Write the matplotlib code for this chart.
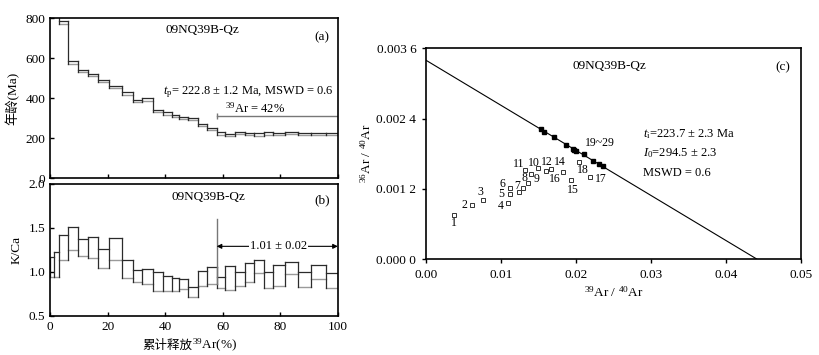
import matplotlib.pyplot as plt
import numpy as np

plt.rcParams['font.family'] = ['Liberation Serif', 'Noto Sans CJK SC']
plt.rcParams['mathtext.fontset'] = 'custom'
plt.rcParams['mathtext.rm'] = 'Liberation Serif'
plt.rcParams['mathtext.it'] = 'Liberation Serif:italic'
plt.rcParams['font.size'] = 9.5

# step boundaries, cumulative 39Ar released (%)
cum_ar = [0, 1.4, 3.1, 6.1, 9.6, 13.3, 16.8, 20.5, 25.0, 29.0, 32.1, 35.7, 39.2, 42.3,
          44.8, 47.9, 51.3, 54.5, 57.9, 60.9, 64.4, 67.6, 70.9, 74.4, 77.6, 81.7,
          86.3, 90.6, 95.9, 100]
# apparent ages (Ma), 1 sigma
ages = [1000, 900, 780, 579, 536, 518, 488, 456, 424, 387, 394, 338, 324, 310, 300,
        296, 266, 247, 225, 216, 226, 221, 219, 224, 223, 226, 221, 222, 220]
age_err = [10, 10, 7, 6, 5, 5, 5, 6, 6, 6, 6, 6, 6, 5, 5, 5, 6, 5, 6, 6, 5, 5, 6, 6,
           5, 6, 5, 5, 5]
# K/Ca
kca = [1.05, 1.08, 1.275, 1.375, 1.275, 1.28, 1.15, 1.26, 1.035, 0.95, 0.945, 0.89,
       0.866, 0.85, 0.86, 0.773, 0.925, 0.96, 0.88, 0.93, 0.92, 0.99, 1.06, 0.91,
       0.96, 1.04, 0.915, 1.00, 0.905]
kca_err = [0.114, 0.14, 0.14, 0.13, 0.10, 0.12, 0.11, 0.13, 0.10, 0.07, 0.085, 0.11,
           0.09, 0.074, 0.06, 0.057, 0.085, 0.10, 0.06, 0.14, 0.08, 0.11, 0.07, 0.09,
           0.12, 0.07, 0.085, 0.08, 0.085]
plateau_start = 57.9
plateau_age_label = 311

# isochron 36Ar/40Ar vs 39Ar/40Ar
open_x = [0.0037, 0.0061, 0.0076, 0.0110, 0.0112, 0.0112, 0.0124, 0.0136, 0.0140,
          0.0149, 0.0132, 0.0160, 0.0130, 0.0167, 0.0193, 0.0183, 0.0219, 0.0204]
open_y = [0.00076, 0.00092, 0.00100, 0.00096, 0.00111, 0.00122, 0.00115, 0.00130,
          0.00145, 0.00156, 0.00152, 0.00151, 0.00122, 0.00154, 0.00135, 0.00148,
          0.00140, 0.00165]
open_labels = ['1', '2', '3', '4', '5', '6', '7', '8', '9', '10', '11', '12', '',
               '14', '15', '16', '17', '18']
fill_x = [0.01533, 0.01573, 0.01707, 0.01867, 0.01956, 0.01980, 0.01996, 0.02102,
          0.02222, 0.02307, 0.02360]
fill_y = [0.00222, 0.00217, 0.00209, 0.00195, 0.00188, 0.00186, 0.00185, 0.00180,
          0.00167, 0.00163, 0.00159]
iso_y0 = 1 / 294.5
iso_x0 = 0.0441

# label offsets (pixels) for the open points
label_off = [(0, -8), (-7, 0), (-3, 8), (-8, -3), (-9, 0), (-8, 4), (-2, 6), (-3, 5),
             (6, -5), (-4, 5), (-6, 6), (1, 9), (0, 0), (9, 7), (2, -10), (-8, -7),
             (11, -2), (4, -8)]

DARK = '#2b2b2b'
GRAY = '#9a9a9a'


def draw_steps(ax, x, v, e):
    """Step boxes: upper edge dark, lower edge gray, verticals join neighbours."""
    v = np.asarray(v, float)
    e = np.asarray(e, float)
    lo, hi = v - e, v + e
    n = len(v)
    for i in range(n):
        ax.plot([x[i], x[i + 1]], [lo[i], lo[i]], color=GRAY, lw=1.0)
        ax.plot([x[i], x[i + 1]], [hi[i], hi[i]], color=DARK, lw=0.9)
    for i in range(n + 1):
        near = [j for j in (i - 1, i) if 0 <= j < n]
        ax.plot([x[i], x[i]], [min(lo[near]), max(hi[near])], color=DARK, lw=0.9)


def style(ax, direction):
    for s in ax.spines.values():
        s.set_linewidth(1.2)
    ax.tick_params(direction=direction, length=3, width=1, top=False, right=False)


fig = plt.figure(figsize=(8.2, 3.55), dpi=100)
ax_a = fig.add_axes([0.061, 0.4977, 0.351, 0.4507])
ax_b = fig.add_axes([0.061, 0.1107, 0.351, 0.371])
ax_c = fig.add_axes([0.5195, 0.2704, 0.4573, 0.5936])

# (a) age spectrum
draw_steps(ax_a, cum_ar, ages, age_err)
ax_a.plot([plateau_start, 100], [plateau_age_label] * 2, color='#777777', lw=1)
ax_a.plot([plateau_start], [plateau_age_label], marker='|', ms=4, color='#777777')
ax_a.set_xlim(0, 100)
ax_a.set_ylim(0, 800)
ax_a.set_xticks(np.arange(0, 101, 20))
ax_a.set_yticks(np.arange(0, 801, 200))
ax_a.tick_params(labelbottom=False)
style(ax_a, 'in')
ax_a.set_ylabel('年龄(Ma)', family=['Liberation Serif', 'Noto Sans CJK SC'], labelpad=4)
ax_a.text(0.528, 0.927, '09NQ39B-Qz', transform=ax_a.transAxes, ha='center', va='center')
ax_a.text(0.944, 0.883, '(a)', transform=ax_a.transAxes, ha='center', va='center')
ax_a.text(98.5, 430, r'$t_{\rm p}$= 222.8 ± 1.2 Ma, MSWD = 0.6', ha='right', va='center',
          fontsize=9)
ax_a.text(71.2, 351, r'$^{39}$Ar = 42%', ha='center', va='center', fontsize=9)

# (b) K/Ca spectrum
draw_steps(ax_b, cum_ar, kca, kca_err)
ax_b.plot([plateau_start, plateau_start], [0.86, 1.6], color='#777777', lw=1)
ax_b.annotate('', xy=(plateau_start, 1.29), xytext=(100, 1.29),
              arrowprops=dict(arrowstyle='<|-|>', color='black', lw=0.8,
                              mutation_scale=7, shrinkA=0, shrinkB=0))
ax_b.text(79.4, 1.29, '1.01 ± 0.02', ha='center', va='center', fontsize=9,
          bbox=dict(facecolor='white', edgecolor='none', pad=0.5))
ax_b.set_xlim(0, 100)
ax_b.set_ylim(0.5, 2.0)
ax_b.set_xticks(np.arange(0, 101, 20))
ax_b.set_yticks([0.5, 1.0, 1.5, 2.0])
ax_b.set_yticklabels(['0.5', '1.0', '1.5', '2.0'])
style(ax_b, 'in')
ax_b.set_ylabel('K/Ca', labelpad=4)
ax_b.text(0.549, 0.904, '09NQ39B-Qz', transform=ax_b.transAxes, ha='center', va='center')
ax_b.text(0.944, 0.874, '(b)', transform=ax_b.transAxes, ha='center', va='center')
t1 = fig.text(192 / 820, 1 - 345 / 355, '累计释放', ha='right', va='center',
              family='Noto Sans CJK SC', fontsize=9)
ax_b.annotate(r'$^{39}$Ar(%)', xy=(1, 0.45), xycoords=t1, ha='left', va='center',
              fontsize=9.5)

# (c) inverse isochron
ax_c.plot([0, iso_x0], [iso_y0, 0], color='black', lw=0.8)
ax_c.plot(open_x, open_y, ls='none', marker='s', ms=3.5, mfc='white', mec='#333333',
          mew=0.7)
ax_c.plot(fill_x, fill_y, ls='none', marker='s', ms=3.4, color='black')
for xx, yy, lab, off in zip(open_x, open_y, open_labels, label_off):
    if lab:
        ax_c.annotate(lab, (xx, yy), xytext=off, textcoords='offset pixels',
                      ha='center', va='center', fontsize=8.5)
ax_c.text(0.0212, 0.00199, '19~29', ha='left', va='center', fontsize=8.5)
ax_c.text(0.0289, 0.002136, r'$t_{\rm i}$=223.7 ± 2.3 Ma', ha='left', va='center', fontsize=9)
ax_c.text(0.0289, 0.001806, r'$I_0$=294.5 ± 2.3', ha='left', va='center', fontsize=9)
ax_c.text(0.0289, 0.001464, 'MSWD = 0.6', ha='left', va='center', fontsize=9)
ax_c.text(0.49, 0.917, '09NQ39B-Qz', transform=ax_c.transAxes, ha='center', va='center')
ax_c.text(0.952, 0.911, '(c)', transform=ax_c.transAxes, ha='center', va='center')
ax_c.set_xlim(0, 0.05)
ax_c.set_ylim(0, 0.0036)
ax_c.set_xticks([0, 0.01, 0.02, 0.03, 0.04, 0.05])
ax_c.set_xticklabels(['0.00', '0.01', '0.02', '0.03', '0.04', '0.05'])
ax_c.set_yticks([0, 0.0012, 0.0024, 0.0036])
ax_c.set_yticklabels(['0.000 0', '0.001 2', '0.002 4', '0.003 6'])
style(ax_c, 'out')
ax_c.tick_params(pad=4)
ax_c.set_xlabel(r'$^{39}$Ar / $^{40}$Ar', labelpad=3)
ax_c.set_ylabel(r'$^{36}$Ar / $^{40}$Ar', labelpad=2)

fig.savefig('out.png', dpi=100)
